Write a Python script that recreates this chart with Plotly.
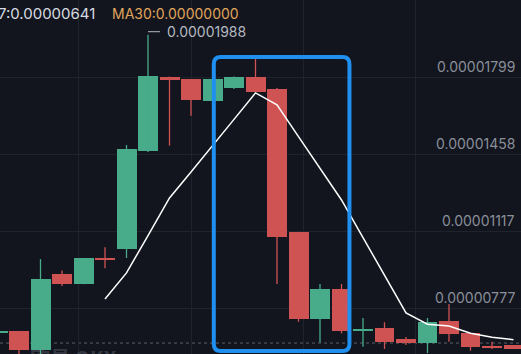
import plotly.graph_objects as go

# ---------------- data ----------------
candle_idx = list(range(-1, 24))
opens  = [6.75e-6, 6.79e-6, 5.95e-6, 9.31e-6, 8.86e-6, 10.00e-6, 10.40e-6, 14.74e-6, 18.03e-6, 17.92e-6,
          16.97e-6, 17.54e-6, 18.03e-6, 17.48e-6, 11.17e-6, 7.34e-6, 8.65e-6, 6.84e-6, 6.91e-6, 6.43e-6,
          6.25e-6, 7.24e-6, 6.69e-6, 6.14e-6, 6.17e-6]
closes = [6.79e-6, 5.95e-6, 9.09e-6, 8.86e-6, 10.00e-6, 9.95e-6, 14.82e-6, 18.06e-6, 17.88e-6, 17.00e-6,
          17.92e-6, 18.03e-6, 17.36e-6, 10.96e-6, 7.34e-6, 8.65e-6, 6.78e-6, 6.87e-6, 6.32e-6, 6.25e-6,
          7.20e-6, 6.66e-6, 6.10e-6, 6.06e-6, 6.00e-6]
highs  = [6.79e-6, 6.79e-6, 9.97e-6, 9.46e-6, 10.00e-6, 10.49e-6, 15.01e-6, 19.88e-6, 18.03e-6, 17.92e-6,
          17.92e-6, 18.03e-6, 18.90e-6, 17.53e-6, 11.17e-6, 8.87e-6, 8.87e-6, 7.37e-6, 7.18e-6, 6.53e-6,
          7.37e-6, 7.99e-6, 6.69e-6, 6.32e-6, 6.17e-6]
lows   = [6.71e-6, 5.69e-6, 5.69e-6, 8.78e-6, 8.86e-6, 9.56e-6, 10.02e-6, 14.70e-6, 14.98e-6, 16.30e-6,
          16.97e-6, 17.48e-6, 17.36e-6, 8.87e-6, 7.20e-6, 6.28e-6, 6.69e-6, 6.10e-6, 6.00e-6, 6.17e-6,
          5.82e-6, 6.32e-6, 5.92e-6, 6.00e-6, 6.00e-6]

ma7_idx = list(range(4, 24))
ma7_vals = [8.21e-6, 9.36e-6, 11.01e-6, 12.67e-6, 13.82e-6, 14.96e-6, 16.14e-6, 17.31e-6, 16.78e-6, 15.38e-6,
            13.99e-6, 12.58e-6, 10.92e-6, 9.27e-6, 7.59e-6, 7.09e-6, 7.01e-6, 6.69e-6, 6.52e-6, 6.41e-6]

ma7_label = "MA7:0.00000641"
ma30_label = "MA30:0.00000000"

price_ticks = [1.799e-5, 1.458e-5, 1.117e-5, 7.77e-6]
price_tick_labels = ["0.00001799", "0.00001458", "0.00001117", "0.00000777"]
time_grid = [2.79, 8.0, 13.21, 18.42]

high_idx = 6
high_val = 1.988e-5
high_label = "0.00001988"

last_price_line = 6.26e-6

box_x = [9.06, 15.37]
box_y = [5.91e-6, 1.8895e-5]

# ---------------- style ----------------
W, H = 521, 354
X_RANGE = [-0.8837, 23.349]
Y_RANGE = [5.777e-6, 2.1413e-5]
BG = "#12151e"
GRID = "#1f232c"
UP = "#48ab8a"
DOWN = "#cf5352"
px_val = (Y_RANGE[1] - Y_RANGE[0]) / H
px_x = (X_RANGE[1] - X_RANGE[0]) / W

fig = go.Figure()

# wicks
for col, cond in ((UP, lambda o, c: c >= o), (DOWN, lambda o, c: c < o)):
    xs, ys = [], []
    for i, o, c, h, l in zip(candle_idx, opens, closes, highs, lows):
        if cond(o, c):
            xs += [i, i, None]
            ys += [l, h, None]
    fig.add_trace(go.Scatter(x=xs, y=ys, mode="lines", line=dict(color=col, width=1.3),
                             hoverinfo="skip", showlegend=False))

# bodies
bases, heights, colors = [], [], []
min_h = 1.3 * px_val
for o, c in zip(opens, closes):
    lo, hi = min(o, c), max(o, c)
    hgt = max(hi - lo, min_h)
    mid = (lo + hi) / 2
    bases.append(mid - hgt / 2 if hi - lo < min_h else lo)
    heights.append(hgt)
    colors.append(UP if c >= o else DOWN)
fig.add_trace(go.Bar(x=candle_idx, y=heights, base=bases, width=0.93,
                     marker=dict(color=colors, line=dict(width=0)), showlegend=False, hoverinfo="skip"))

# MA7 line
fig.add_trace(go.Scatter(x=ma7_idx, y=ma7_vals, mode="lines", line=dict(color="#ffffff", width=1.5),
                         showlegend=False, hoverinfo="skip"))

shapes = []
# last price dashed line
shapes.append(dict(type="line", xref="paper", yref="y", x0=0, x1=1, y0=last_price_line, y1=last_price_line,
                   line=dict(color="#5a5f69", width=1, dash="3px,3px"), layer="below"))
# high marker line
shapes.append(dict(type="line", xref="x", yref="y", ysizemode="pixel", yanchor=high_val, y0=3, y1=3,
                   x0=high_idx, x1=high_idx + 0.56, line=dict(color="#b5b9c1", width=1)))
# blue highlight box with rounded corners
rx = 7 * px_x
ry = 7 * px_val
x0, x1 = box_x
y0, y1 = box_y
path = (f"M {x0+rx},{y1} L {x1-rx},{y1} Q {x1},{y1} {x1},{y1-ry} "
        f"L {x1},{y0+ry} Q {x1},{y0} {x1-rx},{y0} L {x0+rx},{y0} Q {x0},{y0} {x0},{y0+ry} "
        f"L {x0},{y1-ry} Q {x0},{y1} {x0+rx},{y1} Z")
shapes.append(dict(type="path", xref="x", yref="y", path=path, line=dict(color="#1f8ff0", width=4)))

annotations = []
FONT = "Inter, Noto Sans, sans-serif"
for v, t in zip(price_ticks, price_tick_labels):
    annotations.append(dict(x=517 / W, xref="paper", xanchor="right", y=v, yref="y", yanchor="bottom",
                            yshift=1, text=t, showarrow=False, font=dict(family=FONT, size=14, color="#8a8f99")))
annotations.append(dict(x=high_idx + 0.79, xref="x", xanchor="left", y=high_val, yref="y", yanchor="middle",
                        yshift=3, text=high_label, showarrow=False,
                        font=dict(family=FONT, size=14, color="#b5b9c1")))
annotations.append(dict(x=97 / W, xref="paper", xanchor="right", y=1 - 14 / H, yref="paper", yanchor="middle",
                        text=ma7_label, showarrow=False, font=dict(family=FONT, size=15, color="#d8dbe0")))
annotations.append(dict(x=110 / W, xref="paper", xanchor="left", y=1 - 14 / H, yref="paper", yanchor="middle",
                        text=ma30_label, showarrow=False, font=dict(family=FONT, size=14, color="#e0a45a")))
# watermark
annotations.append(dict(x=28 / W, xref="paper", xanchor="left", y=1 - 341 / H, yref="paper", yanchor="top",
                        text="<b>欧易 OKX</b>", showarrow=False,
                        font=dict(family="Noto Sans CJK SC, Inter", size=20, color="rgba(140,145,155,0.30)")))

fig.update_layout(
    width=W, height=H, margin=dict(l=0, r=0, t=0, b=0),
    paper_bgcolor=BG, plot_bgcolor=BG, bargap=0, showlegend=False,
    xaxis=dict(range=X_RANGE, tickvals=time_grid, showticklabels=False, showgrid=True, gridcolor=GRID,
               gridwidth=1, zeroline=False, showline=False, ticks="", fixedrange=True),
    yaxis=dict(range=Y_RANGE, tickvals=price_ticks, showticklabels=False, showgrid=True, gridcolor=GRID,
               gridwidth=1, zeroline=False, showline=False, ticks="", fixedrange=True),
    shapes=shapes, annotations=annotations,
)

fig.write_html("out.html", config={"displayModeBar": False})
